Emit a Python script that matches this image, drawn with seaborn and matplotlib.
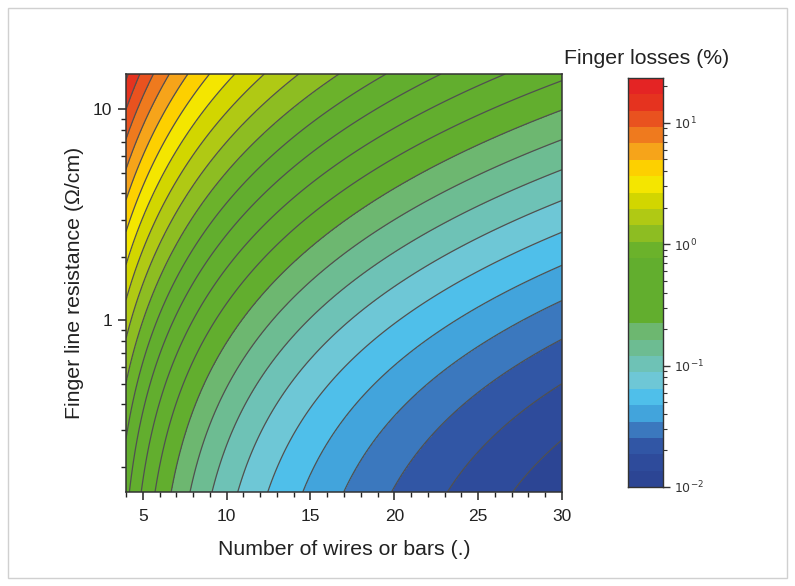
import numpy as np
import matplotlib
matplotlib.use("Agg")
import matplotlib.pyplot as plt
from matplotlib.colors import ListedColormap
from matplotlib.patches import Rectangle
from matplotlib.ticker import FixedLocator, NullFormatter, LogLocator
import seaborn as sns

# ---- data ----
n_range = [4, 30]                 # number of wires / bars
r_range = [0.153, 14.7]           # finger line resistance (Ohm/cm)
loss_slope = 19.5
loss_offset = 7.0                 # loss*N^2 at zero resistance
level_min_exp = -2.0              # colour scale bottom: 10^-2 %
level_max_exp = 1.37              # colour scale top: ~23 %
n_bands = 25
band_colors = [  # bottom -> top
    "#2c4594", "#2e4b9b", "#3156a5", "#3b78be", "#42a4dc", "#4fbfea",
    "#6ec7d6", "#6ec2b6", "#6dbc92", "#6db770", "#62ae2e", "#62ae2e",
    "#62ae2e", "#62ae2e", "#6bb22b", "#8dbd22", "#b0c914", "#d2d600",
    "#f4e600", "#fdd000", "#f6a41a", "#ef7a1e", "#e9521f", "#e5331f",
    "#e42424",
]
x_ticks = [5, 10, 15, 20, 25, 30]
y_ticks = [1, 10]
cbar_ticks = [0.01, 0.1, 1, 10]
cbar_ticklabels = [r"$10^{-2}$", r"$10^{-1}$", r"$10^{0}$", r"$10^{1}$"]

sns.set_theme(style="ticks")
plt.rcParams["font.family"] = ["Liberation Sans", "DejaVu Sans"]

W, H = 795, 586
fig = plt.figure(figsize=(W / 100, H / 100), dpi=100)
fig.patch.set_facecolor("white")

levels = np.logspace(level_min_exp, level_max_exp, n_bands + 1)
n_grid = np.linspace(n_range[0], n_range[1], 400)
r_grid = np.geomspace(r_range[0], r_range[1], 400)
N, R = np.meshgrid(n_grid, r_grid)
Z = (loss_slope * R + loss_offset) / N ** 2
Zc = np.clip(Z, levels[0] * 1.0001, levels[-1] * 0.9999)

cmap = ListedColormap(band_colors)

ax = fig.add_axes([126 / W, 1 - 492 / H, (562 - 126) / W, (492 - 74) / H])
ax.contourf(N, R, Zc, levels=levels, colors=band_colors)
ax.contour(N, R, Z, levels=levels[1:-1], colors="#505050", linewidths=0.9)
ax.set_yscale("log")
ax.set_xlim(n_range)
ax.set_ylim(r_range)
ax.set_xticks(x_ticks)
ax.set_xticklabels([str(t) for t in x_ticks])
ax.xaxis.set_minor_locator(FixedLocator(np.arange(4, 31, 1)))
ax.yaxis.set_major_locator(FixedLocator(y_ticks))
ax.set_yticklabels([str(t) for t in y_ticks])
ax.yaxis.set_minor_locator(LogLocator(base=10, subs=np.arange(2, 10)))
ax.yaxis.set_minor_formatter(NullFormatter())
ax.tick_params(which="major", direction="out", length=6, width=1.1,
               labelsize=12.5, colors="#222222")
ax.tick_params(axis="x", which="major", pad=6)
ax.tick_params(axis="y", which="major", pad=4)
ax.tick_params(which="minor", direction="out", length=3.5, width=1.0, colors="#222222")
for s in ax.spines.values():
    s.set_linewidth(1.1)
    s.set_color("#333333")
ax.set_xlabel("Number of wires or bars (.)", fontsize=15.3, color="#222222", labelpad=12)
ax.set_ylabel("Finger line resistance (\u03a9/cm)", fontsize=15.3, color="#222222", labelpad=6)

# colour bar drawn from the same levels and colours
cax = fig.add_axes([628 / W, 1 - 487 / H, 35 / W, (487 - 78) / H])
cax.pcolormesh([0, 1], levels, np.arange(n_bands).reshape(-1, 1), cmap=cmap,
               vmin=-0.5, vmax=n_bands - 0.5)
cax.set_yscale("log")
cax.set_ylim(levels[0], levels[-1])
cax.set_xlim(0, 1)
cax.set_xticks([])
cax.yaxis.tick_right()
cax.yaxis.set_major_locator(FixedLocator(cbar_ticks))
cax.set_yticklabels(cbar_ticklabels)
cax.yaxis.set_minor_locator(LogLocator(base=10, subs=np.arange(2, 10)))
cax.yaxis.set_minor_formatter(NullFormatter())
cax.tick_params(which="major", direction="out", length=5, width=1.0,
                labelsize=9, colors="#333333", pad=3)
cax.tick_params(which="minor", direction="out", length=3, width=0.8, colors="#333333")
for s in cax.spines.values():
    s.set_linewidth(1.0)
    s.set_color("#333333")
fig.text(647 / W, 1 - 58 / H, "Finger losses (%)", ha="center", va="center",
         fontsize=15.3, color="#222222")

fig.patches.append(Rectangle((8 / W, 8 / H), 779 / W, 570 / H, transform=fig.transFigure,
                             fill=False, edgecolor="#d0d0d0", linewidth=1.0))

fig.savefig("out.png", dpi=100)
